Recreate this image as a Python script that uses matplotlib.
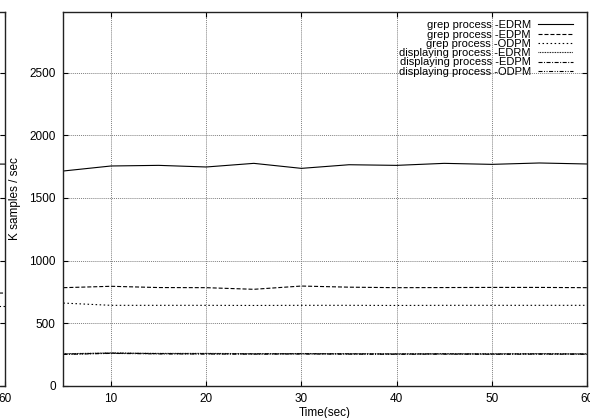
import matplotlib
matplotlib.use('Agg')
import matplotlib.pyplot as plt

plt.rcParams['font.family'] = ['Liberation Sans', 'DejaVu Sans']
plt.rcParams['font.size'] = 8.5
plt.rcParams['lines.scale_dashes'] = False

# time axis (sec)
time_s = [5, 10, 15, 20, 25, 30, 35, 40, 45, 50, 55, 60]

# K samples / sec
grep_edrm = [1715, 1755, 1760, 1747, 1776, 1736, 1765, 1760, 1776, 1768, 1779, 1771]
grep_edpm = [783, 794, 784, 783, 770, 796, 787, 783, 784, 785, 785, 783]
grep_odpm = [660, 642, 642, 642, 641, 642, 642, 641, 642, 642, 642, 642]
disp_edrm = [255, 262, 258, 258, 256, 257, 256, 255, 256, 255, 256, 255]
disp_edpm = [252, 260, 256, 255, 254, 255, 254, 253, 254, 253, 254, 253]
disp_odpm = [250, 258, 254, 253, 252, 253, 252, 251, 252, 251, 252, 251]

labels = ['grep process -EDRM', 'grep process -EDPM', 'grep process -ODPM',
          'displaying process -EDRM', 'displaying process -EDPM',
          'displaying process -ODPM']

# neighbouring chart, only its right edge is visible
left_x = [50, 55, 60]
left_a = [1768, 1772, 1770]
left_b = [742, 741, 740]
left_c = [638, 637, 637]

styles = ['-', (0, (2.9, 1.4)), (0, (1.1, 1.8)), (0, (0.6, 0.6)),
          (0, (2.9, 1.1, 0.7, 1.1)), (0, (2.9, 1.1, 0.7, 1.1, 0.7, 1.1))]

fig = plt.figure(figsize=(5.9, 4.18), dpi=100)
W, H = 590.0, 418.0
ax_l, ax_r, ax_t, ax_b = 63.4, 587.0, 12.0, 385.7
aw = (ax_r - ax_l) / W
ah = (ax_b - ax_t) / H
ax = fig.add_axes([ax_l / W, 1 - ax_b / H, aw, ah])
ax0 = fig.add_axes([5.0 / W - aw, 1 - ax_b / H, aw, ah])


def style_axes(a):
    a.set_xlim(5, 60)
    a.set_ylim(0, 2985)
    a.set_xticks([10, 20, 30, 40, 50, 60])
    a.set_yticks([0, 500, 1000, 1500, 2000, 2500])
    a.tick_params(direction='in', length=3.6, width=0.8, top=True, right=True,
                  pad=5.5, labelsize=8.5, colors='black')
    a.grid(True, color='0.5', linewidth=0.7, linestyle=(0, (0.7, 0.7)))
    for s in a.spines.values():
        s.set_linewidth(1.0)
        s.set_color('#222222')


style_axes(ax0)
style_axes(ax)

for vals, st in zip([left_a, left_b, left_c], styles[:3]):
    ax0.plot(left_x, vals, color='black', linewidth=0.8, linestyle=st)

series = [grep_edrm, grep_edpm, grep_odpm, disp_edrm, disp_edpm, disp_odpm]
for vals, st, lab in zip(series, styles, labels):
    ax.plot(time_s, vals, color='black', linewidth=0.8, linestyle=st, label=lab)

ax.set_xlabel('Time(sec)', fontsize=8.5, labelpad=1)
ax.set_ylabel('K samples / sec', fontsize=8.5)
ax.yaxis.set_label_coords((21 - ax_l) / (ax_r - ax_l), 0.5)

ax.legend(loc='upper right', bbox_to_anchor=(0.973, 0.978), frameon=False,
          markerfirst=False, handlelength=3.1, handletextpad=0.7,
          labelspacing=-0.063, borderaxespad=0, borderpad=0, fontsize=8)

fig.savefig('out.png', dpi=100)
